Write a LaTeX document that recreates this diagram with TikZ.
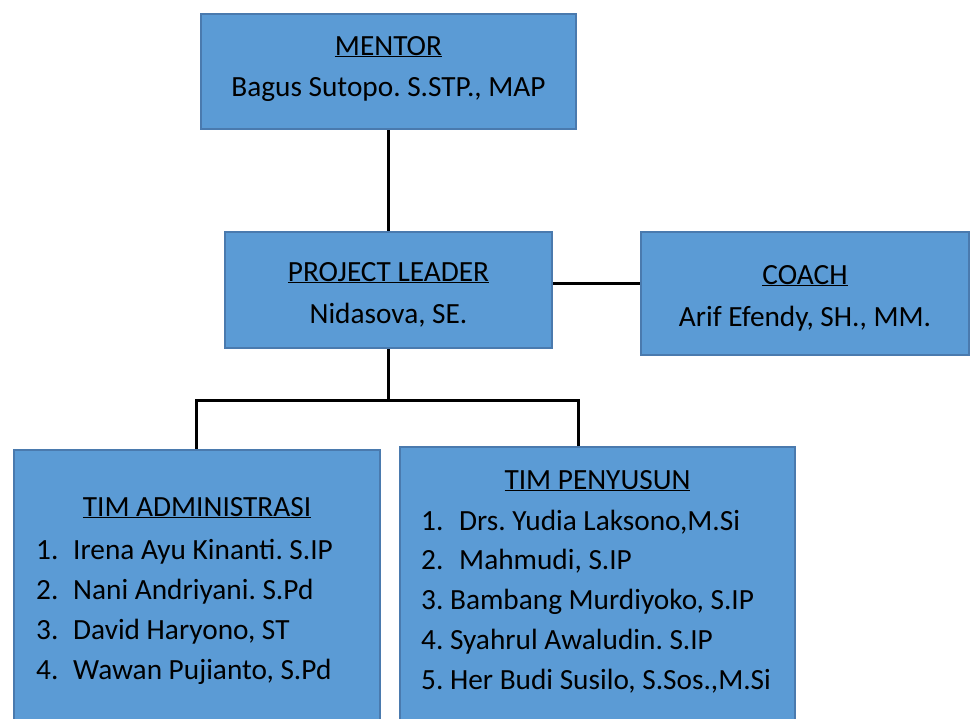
\documentclass[tikz,border=0pt]{standalone}
\usepackage{fontspec}
\setmainfont{Carlito}
\frenchspacing
\definecolor{boxfill}{HTML}{5B9BD5}
\definecolor{boxline}{HTML}{4A7AAE}
\begin{document}
\begin{tikzpicture}[x=1pt,y=-1pt,
  orgbox/.style={draw=boxline,fill=boxfill,line width=2pt,rectangle,inner sep=0pt},
  txt/.style={inner sep=0pt,font=\fontsize{29.3}{34}\selectfont},
  ctxt/.style={txt,anchor=base},
  ltxt/.style={txt,anchor=base west},
  link/.style={black,line width=3pt}]
\useasboundingbox (0,0) rectangle (973,718);
\fill[white] (0,0) rectangle (973,718);
\begin{scope}
\clip (0,0) rectangle (973,718);
\node[orgbox,minimum width=375pt,minimum height=115pt] (mentor) at (388.5,71.5) {};
\node[orgbox,minimum width=327pt,minimum height=116pt] (pl) at (388.5,290) {};
\node[orgbox,minimum width=328pt,minimum height=123pt] (coach) at (805,293.5) {};
\node[orgbox,minimum width=366pt,minimum height=276pt] (adm) at (197,588) {};
\node[orgbox,minimum width=395pt,minimum height=279pt] (pen) at (597.5,586.5) {};
\end{scope}
% connectors
\coordinate (j) at (388.5,400);
\coordinate (ja) at (196,400);
\coordinate (jp) at (578,400);
\draw[link] (mentor.south) -- (pl.north);
\draw[link] ([yshift=7pt]pl.east) -- ([yshift=7pt]pl.east -| coach.west);
\draw[link] (pl.south) -- (j);
\draw[link,line cap=rect] (ja) -- (jp);
\draw[link] (ja) -- (ja |- adm.north);
\draw[link] (jp) -- (jp |- pen.north);
% texts
\node[ctxt] (t1) at (388.5,55) {\underline{MENTOR}};
\node[ctxt] (t2) at (388.5,96) {Bagus Sutopo. S.STP., MAP};
\node[ctxt] (t3) at (388.5,281) {\underline{PROJECT LEADER}};
\node[ctxt] (t4) at (388.5,323) {Nidasova, SE.};
\node[ctxt] (t5) at (805,284) {\underline{COACH}};
\node[ctxt] (t6) at (805,326) {Arif Efendy, SH., MM.};
\node[ctxt] (t7) at (197,516) {\underline{TIM ADMINISTRASI}};
\node[ltxt] (a1n) at (36,559) {1.};
\node[ltxt] (a1) at (73,559) {Irena Ayu Kinanti. S.IP};
\node[ltxt] (a2n) at (36,599) {2.};
\node[ltxt] (a2) at (73,599) {Nani Andriyani. S.Pd};
\node[ltxt] (a3n) at (36,639) {3.};
\node[ltxt] (a3) at (73,639) {David Haryono, ST};
\node[ltxt] (a4n) at (36,679) {4.};
\node[ltxt] (a4) at (73,679) {Wawan Pujianto, S.Pd};
\node[ctxt] (t8) at (597.5,489) {\underline{TIM PENYUSUN}};
\node[ltxt] (p1n) at (421,530) {1.};
\node[ltxt] (p1) at (459,530) {Drs. Yudia Laksono,M.Si};
\node[ltxt] (p2n) at (421,569) {2.};
\node[ltxt] (p2) at (459,569) {Mahmudi, S.IP};
\node[ltxt] (p3) at (421,609) {3. Bambang Murdiyoko, S.IP};
\node[ltxt] (p4) at (421,649) {4. Syahrul Awaludin. S.IP};
\node[ltxt] (p5) at (421,689) {5. Her Budi Susilo, S.Sos.,M.Si};
\end{tikzpicture}
\end{document}
